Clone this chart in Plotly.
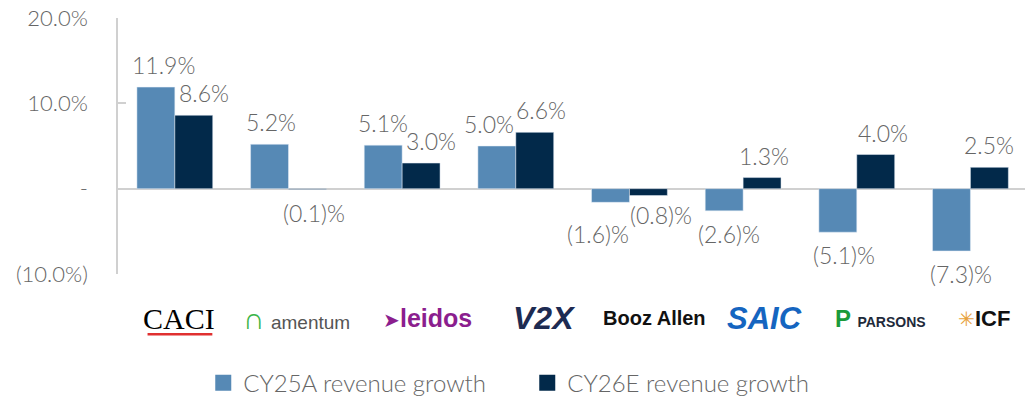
import plotly.graph_objects as go

companies = ["CACI", "Amentum", "Leidos", "V2X", "Booz Allen", "SAIC", "Parsons", "ICF"]
cy25a = [11.9, 5.2, 5.1, 5.0, -1.6, -2.6, -5.1, -7.3]
cy26e = [8.6, -0.1, 3.0, 6.6, -0.8, 1.3, 4.0, 2.5]
tick_vals = [-10, 0, 10, 20]
tick_text = ["(10.0%)", "-", "10.0%", "20.0%"]
series_names = ["CY25A revenue growth", "CY26E revenue growth"]

LIGHT = "#5689b5"
DARK = "#02294a"
GRAY = "#666666"
FONT = "Lato"
FS = 23

# label nudges (px) so neighbouring labels do not collide, as in the source
nudge_x_25 = [8, 2, 0, -8, -12, 5, 6, 10]
nudge_x_26 = [10, 7, 10, 6, 13, 2, 7, 0]
nudge_y_25 = [0, 0, 0, 0, -9, 0, 0, 0]
nudge_y_26 = [0, 0, 0, 0, 3, 0, 0, 0]


def fmt(v):
    return f"({abs(v):.1f})%" if v < 0 else f"{v:.1f}%"


fig = go.Figure()
for vals, col in ((cy25a, LIGHT), (cy26e, DARK)):
    fig.add_trace(go.Bar(x=companies, y=vals, marker_color=col, showlegend=False,
                         hoverinfo="x+y"))
# legend entries with larger square swatches
for name, col in zip(series_names, (LIGHT, DARK)):
    fig.add_trace(go.Scatter(x=[companies[0]], y=[None], mode="markers", name=name,
                             marker=dict(symbol="square", size=20, color=col)))

BAR_HALF = 19  # half of a bar's pixel width: offset of each series within a group
for vals, sgn, nx, ny in ((cy25a, -1, nudge_x_25, nudge_y_25),
                          (cy26e, 1, nudge_x_26, nudge_y_26)):
    for c, v, dx, dy in zip(companies, vals, nx, ny):
        fig.add_annotation(
            x=c, y=v, xref="x", yref="y", text=fmt(v), showarrow=False,
            xshift=sgn * BAR_HALF + dx, yshift=(6 if v >= 0 else -7) + dy,
            yanchor="bottom" if v >= 0 else "top",
            font=dict(size=FS, color=GRAY, family=FONT, weight=300),
        )

logos = [
    "<span style='font-family:Liberation Serif;font-size:30px;color:#000'>CACI</span>",
    "<span style='color:#3cb54a;font-size:30px'>∩</span> <span style='color:#555;font-size:19px'>amentum</span>",
    "<span style='color:#8b1e8e;font-size:20px'>➤</span><b style='color:#8b1e8e;font-size:25px'>leidos</b>",
    "<b><i style='color:#1d2b52;font-size:32px'>V2X</i></b>",
    "<b style='color:#111;font-size:20px'>Booz Allen</b>",
    "<b><i style='color:#1565c0;font-size:31px'>SAIC</i></b>",
    "<b style='color:#1a9a3a;font-size:24px'>P</b> <b style='color:#1e2a3a;font-size:14px'>PARSONS</b>",
    "<span style='color:#e8a23a;font-size:20px'>✳</span><b style='color:#111;font-size:22px'>ICF</b>",
]
logo_dx = [4, 8, 25, 28, 25, 21, 24, 14]
for c, t, dx in zip(companies, logos, logo_dx):
    fig.add_annotation(x=c, y=-0.172, xref="x", yref="paper", text=t, showarrow=False,
                       xshift=dx, font=dict(family="Liberation Sans"), yanchor="middle")
fig.add_shape(type="line", xref="x", yref="paper", x0=-0.24, x1=0.33, y0=-0.235, y1=-0.235,
              line=dict(color="#e03030", width=2.5))

fig.update_layout(
    width=1025, height=401,
    margin=dict(l=118, r=0, t=18, b=127, autoexpand=False),
    paper_bgcolor="white", plot_bgcolor="white",
    barmode="group", bargap=0.333, bargroupgap=0,
    font=dict(family=FONT, color=GRAY, size=FS, weight=300),
    showlegend=True,
    legend=dict(orientation="h", x=0.094, xanchor="left", y=-0.426, yanchor="middle",
                font=dict(size=24, color=GRAY, weight=300, family=FONT),
                entrywidth=279, entrywidthmode="pixels", itemsizing="trace",
                tracegroupgap=0),
)
fig.update_xaxes(showticklabels=False, showline=False, showgrid=False, zeroline=False,
                 range=[-0.5, 7.48], automargin=False)
fig.update_yaxes(range=[-10, 20], tickvals=tick_vals, ticktext=tick_text, automargin=False,
                 showgrid=False, zeroline=True, zerolinecolor="#d0d0d0", zerolinewidth=1.5,
                 showline=True, linecolor="#d0d0d0", linewidth=1.5,
                 ticks="inside", ticklen=8, tickcolor="#d0d0d0", tickwidth=1.5,
                 ticklabelstandoff=24, ticklabeloverflow="allow",
                 tickfont=dict(size=22, color=GRAY, family=FONT, weight=300))

fig.write_html("out.html", config={"displayModeBar": False},
               post_script="document.body.style.margin='0';")
